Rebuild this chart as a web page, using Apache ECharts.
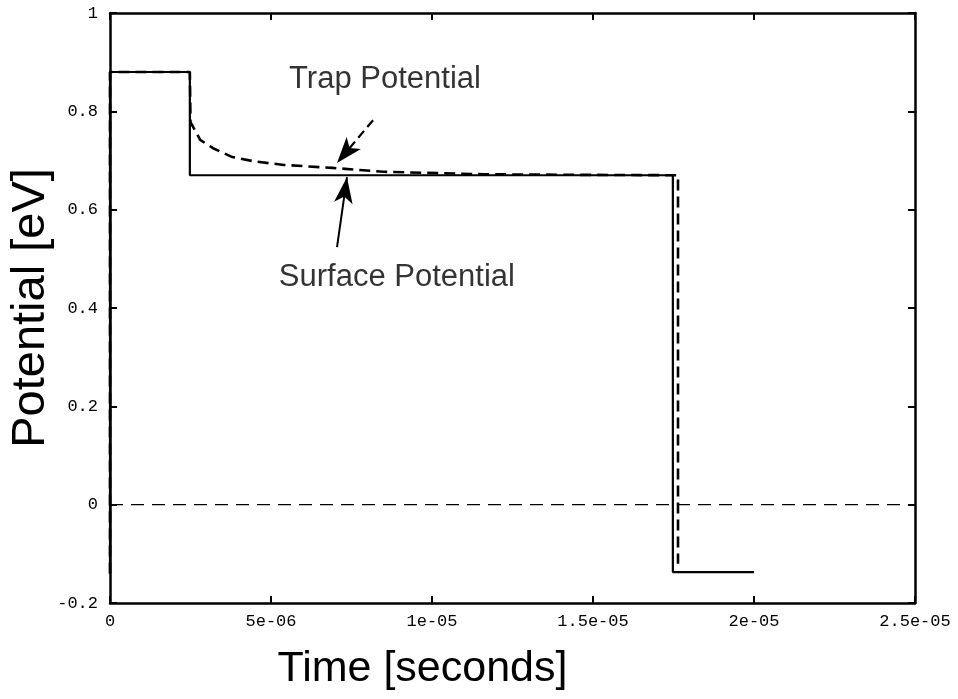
<!DOCTYPE html>
<html>
<head>
<meta charset="utf-8">
<script src="https://cdn.jsdelivr.net/npm/echarts@6/dist/echarts.min.js"></script>
<style>
  html, body { margin: 0; padding: 0; background: #fff; }
  #chart { width: 958px; height: 699px; }
</style>
</head>
<body>
<div id="chart"></div>
<script>
// surface potential (solid)
var surfaceT = [0, 0, 2.48e-6, 2.48e-6, 1.748e-5, 1.748e-5, 2.0e-5];
var surfaceV = [-0.14, 0.88, 0.88, 0.67, 0.67, -0.137, -0.137];
// trap potential (dashed)
var trapT = [0, 0, 2.48e-6, 2.5e-6, 2.8e-6, 3.2e-6, 3.8e-6, 4.5e-6, 5.4e-6, 6.9e-6, 8.5e-6, 1.16e-5, 1.4e-5, 1.764e-5, 1.764e-5];
var trapV = [-0.14, 0.88, 0.88, 0.778, 0.742, 0.725, 0.707, 0.698, 0.691, 0.685, 0.677, 0.672, 0.671, 0.670, -0.12];
// zero reference line
var zeroT = [0, 2.5e-5];
var zeroV = [0, 0];
// annotations: [t, v]
var trapLabel = [8.54e-6, 0.864];
var surfLabel = [8.91e-6, 0.463];
var trapArrow = [[8.17e-6, 0.782], [7.05e-6, 0.695]];
var surfArrow = [[7.05e-6, 0.524], [7.36e-6, 0.666]];

var xTicks = ['0', '5e-06', '1e-05', '1.5e-05', '2e-05', '2.5e-05'];
var yTicks = ['-0.2', '0', '0.2', '0.4', '0.6', '0.8', '1'];

function zip(a, b) { return a.map(function (v, i) { return [v, b[i]]; }); }

var monoFont = { fontFamily: 'Liberation Mono', fontSize: 17, color: '#000' };
var tick = { show: true, inside: true, length: 7, lineStyle: { color: '#000', width: 2 } };
var axisLine = { show: true, onZero: false, lineStyle: { color: '#000', width: 2.5 } };

function xLabel(v) { return xTicks[Math.round(v / 5e-6)]; }
function yLabel(v) { return yTicks[Math.round((v + 0.2) / 0.2)]; }

var chart = echarts.init(document.getElementById('chart'));
chart.setOption({
  animation: false,
  grid: { left: 110, right: 43, top: 13, bottom: 96, outerBoundsMode: 'none' },
  xAxis: [{
    type: 'value', min: 0, max: 2.5e-5, interval: 5e-6, position: 'bottom',
    axisLine: axisLine, axisTick: tick, splitLine: { show: false },
    axisLabel: Object.assign({ margin: 10, formatter: xLabel }, monoFont),
    name: 'Time [seconds]', nameLocation: 'middle', nameGap: 45,
    nameTextStyle: { fontFamily: 'Liberation Sans', fontSize: 43, color: '#000', padding: [0, 180, 0, 0] }
  }, {
    type: 'value', min: 0, max: 2.5e-5, interval: 5e-6, position: 'top',
    axisLine: axisLine, axisTick: tick, axisLabel: { show: false }, splitLine: { show: false }
  }],
  yAxis: [{
    type: 'value', min: -0.2, max: 1, interval: 0.2, position: 'left',
    axisLine: axisLine, axisTick: tick, splitLine: { show: false },
    axisLabel: Object.assign({ margin: 12, formatter: yLabel }, monoFont),
    name: 'Potential [eV]', nameLocation: 'middle', nameGap: 55, nameMoveOverlap: false,
    nameTextStyle: { fontFamily: 'Liberation Sans', fontSize: 47, color: '#000' }
  }, {
    type: 'value', min: -0.2, max: 1, interval: 0.2, position: 'right',
    axisLine: axisLine, axisTick: tick, axisLabel: { show: false }, splitLine: { show: false }
  }],
  series: [{
    name: 'zero', type: 'line', data: zip(zeroT, zeroV), symbol: 'none',
    lineStyle: { color: '#000', width: 1.2, type: [13, 8] }
  }, {
    name: 'Surface Potential', type: 'line', data: zip(surfaceT, surfaceV), symbol: 'none',
    lineStyle: { color: '#000', width: 2.2 },
    markLine: {
      silent: true, symbol: ['none', 'arrow'], symbolSize: [14, 26],
      lineStyle: { color: '#000', width: 2, type: 'solid' },
      itemStyle: { color: '#777' },
      label: { show: false },
      data: [[{ coord: surfArrow[0] }, { coord: surfArrow[1] }]]
    }
  }, {
    name: 'Trap Potential', type: 'line', data: zip(trapT, trapV), symbol: 'none',
    lineStyle: { color: '#000', width: 2.6, type: [11, 6] },
    markLine: {
      silent: true, symbol: ['none', 'arrow'], symbolSize: [14, 26],
      lineStyle: { color: '#000', width: 2.2, type: [9, 5] },
      itemStyle: { color: '#777' },
      label: { show: false },
      data: [[{ coord: trapArrow[0] }, { coord: trapArrow[1] }]]
    }
  }, {
    name: 'labels', type: 'scatter', symbolSize: 0,
    data: [
      { value: trapLabel, name: 'Trap Potential' },
      { value: surfLabel, name: 'Surface Potential' }
    ],
    label: {
      show: true, position: 'inside', formatter: '{b}',
      fontFamily: 'Liberation Sans', fontSize: 31, color: '#000'
    }
  }]
});
</script>
</body>
</html>
